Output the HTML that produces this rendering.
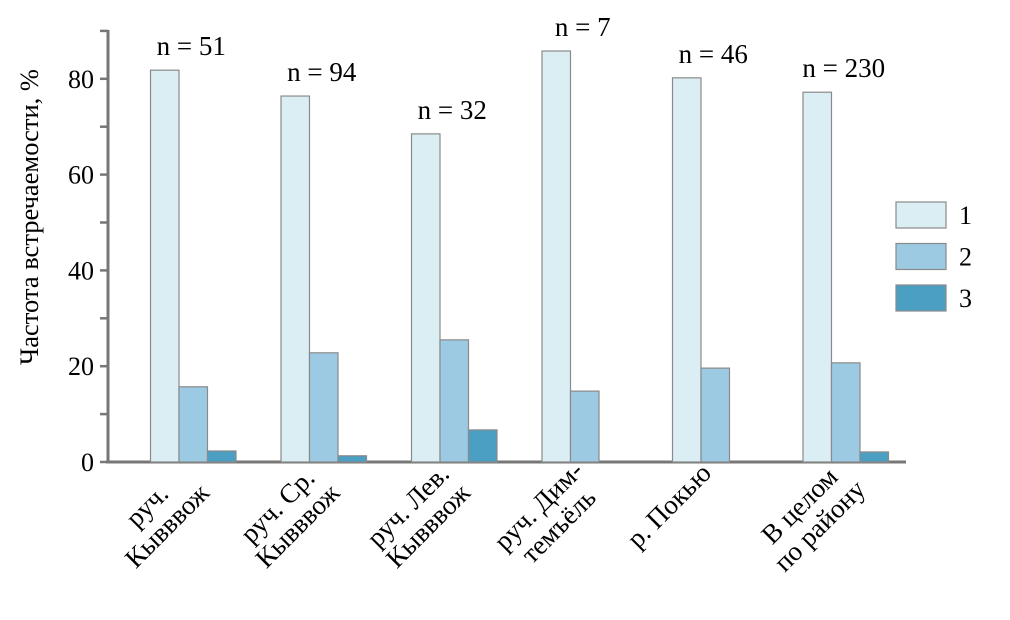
<!DOCTYPE html>
<html><head><meta charset="utf-8"><style>
html,body{margin:0;padding:0;background:#fff;}
svg{display:block;font-family:"Liberation Serif",serif;}
</style></head><body>
<svg id="chart" width="1010" height="620" viewBox="0 0 1010 620" xmlns="http://www.w3.org/2000/svg">
<g id="axes"></g><g id="bars"></g><g id="labels"></g><g id="legend"></g>
</svg>
<script>
const categories = [["руч.","Кывввож"],["руч. Ср.","Кывввож"],["руч. Лев.","Кывввож"],["руч. Дим-","темъёль"],["р. Покью"],["В целом","по району"]];
const nLabels = ["n = 51","n = 94","n = 32","n = 7","n = 46","n = 230"];
const series1 = [81.8, 76.4, 68.5, 85.8, 80.2, 77.2];
const series2 = [15.7, 22.8, 25.5, 14.8, 19.6, 20.7];
const series3 = [2.3, 1.3, 6.7, 0, 0, 2.1];
const yTicks = [0, 20, 40, 60, 80];
const seriesNames = ["1","2","3"];
const colors = ["#daeef4","#9ccae2","#4a9fc2"];

const NS = "http://www.w3.org/2000/svg";
function mk(tag, attrs, parent){const e=document.createElementNS(NS,tag);for(const k in attrs)e.setAttribute(k,attrs[k]);parent.appendChild(e);return e;}
const y0 = 462, pxPerUnit = 4.79;
function yScale(v){return y0 - v*pxPerUnit;}
const bandStart = 128, bandW = 130.5, barW = 28.5;
function xCenter(i){return bandStart + bandW*(i+0.5);}

const axes = document.getElementById('axes');
let yl = mk('line',{x1:108,y1:30,x2:108,y2:y0,stroke:'#777','stroke-width':3},axes);


let xl = mk('line',{x1:106,y1:y0,x2:906,y2:y0,stroke:'#777','stroke-width':3},axes);


for (let v=0; v<=90; v+=10){
  const t = mk('line',{x1:100,y1:yScale(v),x2:108,y2:yScale(v),stroke:'#777','stroke-width':2.5},axes);
  
  
}
yTicks.forEach(v=>{
  const t = mk('text',{x:94,y:yScale(v)+9,'text-anchor':'end','font-size':26},axes);
  t.textContent = v;
  
  
});
const yt = mk('text',{x:0,y:0,'text-anchor':'middle','font-size':26.5,transform:'translate(38,217) rotate(-90)'},axes);
yt.textContent = 'Частота встречаемости, %';



const bars = document.getElementById('bars');
const labels = document.getElementById('labels');
const all = [series1, series2, series3];
categories.forEach((cat,i)=>{
  const cx = xCenter(i);
  const left = cx - barW*1.5;
  all.forEach((s,j)=>{
    if (s[i] <= 0) return;
    const r = mk('rect',{x:left+j*barW,y:yScale(s[i]),width:barW,height:y0-yScale(s[i]),fill:colors[j],stroke:'#8a8a8a','stroke-width':1.2},bars);
    
    
  });
  const top = Math.max(series1[i],series2[i],series3[i]);
  const n = mk('text',{x:cx-2,y:yScale(top)-15,'text-anchor':'middle','font-size':27},labels);
  n.textContent = nLabels[i];
  
  
  cat.forEach((line,k)=>{
    const px = cx - 40 + k*20, py = 512 + k*20;
    const t = mk('text',{x:0,y:0,'text-anchor':'middle','font-size':27,transform:'translate('+px+','+py+') rotate(-45)'},labels);
    t.textContent = line;
    
    
  });
});

const legend = document.getElementById('legend');
seriesNames.forEach((nm,j)=>{
  const y = 202 + j*41.5;
  const r = mk('rect',{x:896,y:y,width:50,height:26,fill:colors[j],stroke:'#8a8a8a','stroke-width':1.2},legend);
  
  
  const t = mk('text',{x:959,y:y+22,'font-size':26},legend);
  t.textContent = nm;
  
  
});
</script>
</body></html>
